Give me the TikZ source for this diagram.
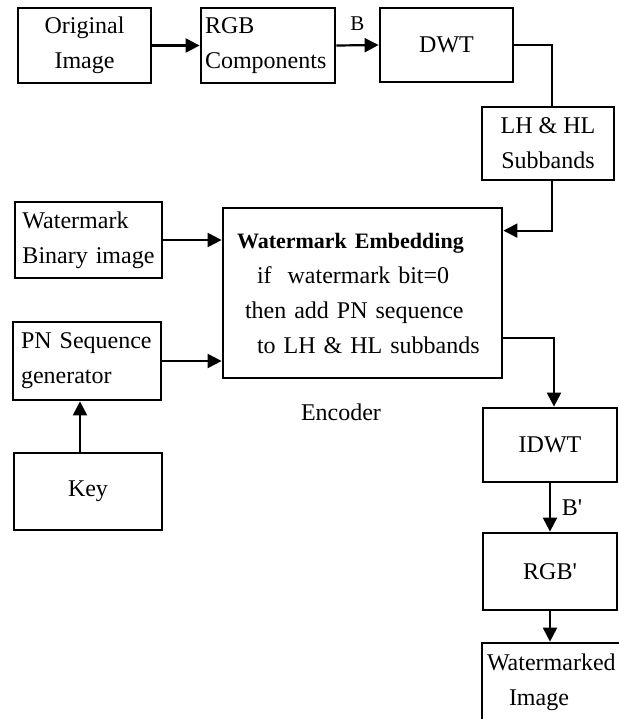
\documentclass[tikz,border=0pt]{standalone}
\usepackage{fontspec}
\setmainfont{Liberation Serif}
\usetikzlibrary{positioning, calc, arrows.meta}
\tikzset{block/.style={draw, line width=1.4pt, inner sep=0pt, align=center, font=\fontsize{12}{17.5}\selectfont},
conn/.style={line width=1.1pt},
line/.style={conn, -{Triangle[length=7pt,width=7pt]}}
}

\begin{document}
\begin{tikzpicture}[x=0.5pt, y=-0.5pt]
\useasboundingbox (0,0) rectangle (619,719);
% top row
\node[block, minimum width=66.5pt, minimum height=37.5pt] (orig) at (84.5,45.5) {Original\\Image};
\node[block, minimum width=67pt, minimum height=37.5pt, align=left, text width=63pt] (rgb) at (268,45.5) {RGB\\Components};
\node[block, minimum width=66.5pt, minimum height=37pt] (dwt) at (446.5,45) {DWT};
\node[block, minimum width=66pt, minimum height=36.5pt] (lh) at (548,143.5) {LH \& HL\\Subbands};
% encoder part
\node[block, minimum width=73.5pt, minimum height=38pt, align=left, text width=66pt] (wm) at (88.5,240) {Watermark\\Binary image};
\node[block, minimum width=139.5pt, minimum height=85pt, align=left, text width=125.5pt] (emb) at (362.5,293)
  {{\fontsize{11}{17.5}\selectfont\bfseries Watermark Embedding}\\
   \hspace*{10pt}if\ \ watermark bit=0\\
   \hspace*{4pt}then add PN sequence\\
   \hspace*{10pt}to LH \& HL subbands};
\node[block, minimum width=74pt, minimum height=39pt, align=left, text width=66pt] (pn) at (87,361) {PN Sequence\\generator};
\node[block, minimum width=74pt, minimum height=38.5pt] (key) at (88,491.5) {Key};
\node[font=\fontsize{12}{14}\selectfont] (enc) at (341,412) {Encoder};
% output column
\node[block, minimum width=67pt, minimum height=37pt] (idwt) at (550,445) {IDWT};
\node[block, minimum width=67pt, minimum height=38.5pt] (rgbp) at (550,571.5) {RGB\textquotesingle};
\node[block, minimum width=71.5pt, minimum height=39.5pt, align=left, text width=66.5pt] (wmd) at (553.5,682.5) {Watermarked\\\hspace*{11pt}Image};
% connectors
\draw[line] (orig.east) -- (rgb.west);
\draw[line] (rgb.east) -- node[above=6pt, inner sep=1pt, font=\fontsize{10.5}{12}\selectfont]{B} (dwt.west);
\draw[conn] (dwt.east) -| ([xshift=2pt]lh.north);
\draw[line] ([xshift=2pt]lh.south) |- ([yshift=-12pt]emb.north east);
\draw[line] (wm.east) -- (wm.east -| emb.west);
\draw[line] (pn.east) -- (pn.east -| emb.west);
\draw[line] ([xshift=-4pt]key.north) -- ([xshift=-4pt]key.north |- pn.south);
\draw[line] ([yshift=-22.5pt]emb.east) -| ([xshift=2pt]idwt.north);
\draw[line] (idwt) -- node[right=2pt, font=\fontsize{12}{14}\selectfont]{B\textquotesingle} (rgbp);
\draw[line] (rgbp.south) -- (rgbp.south |- wmd.north);
\end{tikzpicture}
\end{document}
